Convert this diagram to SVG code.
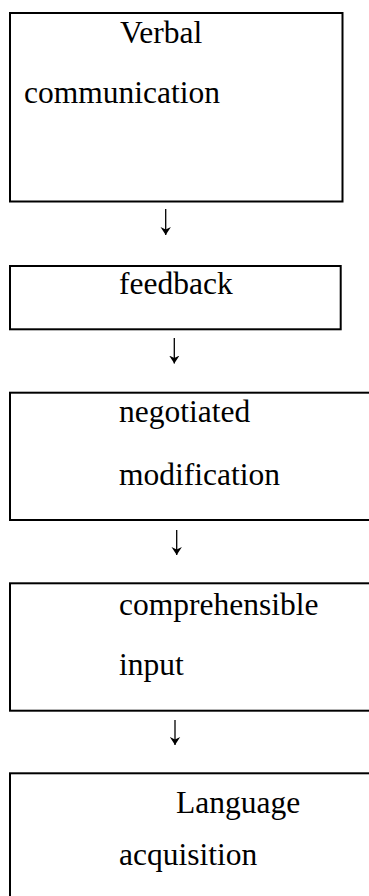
<svg xmlns="http://www.w3.org/2000/svg" width="369" height="896" viewBox="0 0 369 896">
<style>
.box{fill:#fff;stroke:#000;stroke-width:2}
.t{font-family:"Liberation Serif","Times New Roman",serif;font-size:31.5px;fill:#000}
.conn{stroke:#000;stroke-width:1.3;fill:none;marker-end:url(#ah)}
</style>
<defs>
<marker id="ah" markerUnits="userSpaceOnUse" viewBox="0 0 8 11" refX="8" refY="5.5" markerWidth="8" markerHeight="11" orient="auto">
<path d="M0,0.3 L8,5.5 L0,10.7 L2.6,5.5 Z" fill="#000"/>
</marker>
</defs>
<rect width="369" height="896" fill="#fff"/>
<g id="connectors">
<line class="conn" x1="165.7" y1="209" x2="165.7" y2="235"/>
<line class="conn" x1="174.3" y1="338" x2="174.3" y2="363.5"/>
<line class="conn" x1="176.7" y1="530" x2="176.7" y2="555"/>
<line class="conn" x1="175" y1="720" x2="175" y2="745"/>
</g>
<g id="verbal">
<rect class="box" x="10" y="13" width="332.5" height="188.5"/>
<text class="t" x="120" y="43">Verbal</text>
<text class="t" x="24" y="103">communication</text>
</g>
<g id="feedback">
<rect class="box" x="10" y="266" width="330.7" height="63.3"/>
<text class="t" x="119" y="294">feedback</text>
</g>
<g id="negotiated">
<rect class="box" x="10" y="392.7" width="400" height="127.3"/>
<text class="t" x="119" y="421.7">negotiated</text>
<text class="t" x="119" y="485">modification</text>
</g>
<g id="comprehensible">
<rect class="box" x="10" y="583.3" width="400" height="127.4"/>
<text class="t" x="119" y="615">comprehensible</text>
<text class="t" x="119" y="675">input</text>
</g>
<g id="language">
<rect class="box" x="10" y="773.3" width="400" height="200"/>
<text class="t" x="176" y="813">Language</text>
<text class="t" x="119" y="865">acquisition</text>
</g>
</svg>
